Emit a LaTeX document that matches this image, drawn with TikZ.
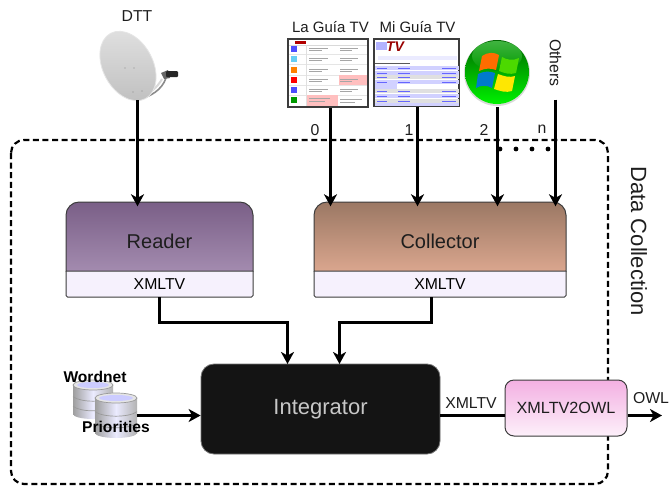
\documentclass[tikz,border=0pt]{standalone}
\usepackage{fontspec}
\setmainfont{Liberation Sans}
\usetikzlibrary{arrows.meta,shapes.geometric,positioning,calc}
\definecolor{ink}{HTML}{1E1E1E}
\definecolor{framec}{HTML}{3C3C3C}
\definecolor{paleport}{HTML}{F6F1FD}
\tikzset{
  x=1pt,y=-1pt,
  conn/.style={line width=2.95pt,draw=black,-{Stealth[length=12pt,width=13pt,inset=3.5pt]}},
  plainline/.style={line width=2.95pt,draw=black},
  boxedge/.style={draw=framec,line width=1pt},
  lbl/.style={inner sep=0pt,font=\fontsize{15.8}{16}\selectfont,text=ink},
  screentitle/.style={inner sep=0pt,font=\fontsize{15}{16}\selectfont,text=ink},
  title/.style={inner sep=0pt,font=\fontsize{20}{20}\selectfont,text=ink},
  port/.style={inner sep=0pt,minimum height=26pt,font=\fontsize{15.8}{16}\selectfont,text=black},
  dbl/.style={inner sep=0pt,font=\fontsize{15.6}{16}\selectfont\bfseries,text=black},
  anchorbox/.style={inner sep=0pt,minimum width=#1},
  screen/.style={draw=framec,line width=1.5pt,inner sep=0pt},
  tiny/.style={line width=0.8pt,draw=black!35},
  cylshade/.style={left color=black!38,right color=black!30,middle color=white!92!blue},
}
\newcommand{\headshape}[2]{(#1,271) -- (#1,215) .. controls +(0,-7) and +(-7,0) .. ++(13,-13) -- (#2-13,202) .. controls +(7,0) and +(0,-7) .. ++(13,13) -- (#2,271) -- cycle}
\newcommand{\dbcyl}[4]{% x left, x right, y top, y bottom
  \pgfmathsetmacro{\cx}{(#1+#2)/2}\pgfmathsetmacro{\rx}{(#2-#1)/2}
  \shade[cylshade] (\cx,#4) ellipse [x radius=\rx,y radius=5];
  \shade[cylshade] (#1,#3) rectangle (#2,#4);
  \fill[black!10] (\cx,#3) ellipse [x radius=\rx,y radius=5];
  \draw[black!40,line width=0.7pt] (\cx,#3) ellipse [x radius=\rx,y radius=5];
  \fill[white!80!blue] (\cx,#3) ellipse [x radius=\rx-4,y radius=3];
  \pgfmathsetmacro{\ya}{#3+(#4-#3)/3+2}\pgfmathsetmacro{\yc}{#3+2*(#4-#3)/3+2}
  \draw[black!40,line width=0.7pt] (#1,\ya) .. controls (#1+8,\ya+6) and (#2-8,\ya+6) .. (#2,\ya);
  \draw[black!40,line width=0.7pt] (#1,\yc) .. controls (#1+8,\yc+6) and (#2-8,\yc+6) .. (#2,\yc);
}
\begin{document}
\begin{tikzpicture}
\useasboundingbox (0,0) rectangle (669,485);
\fill[white] (0,0) rectangle (669,485);

% dashed frame
\draw[line width=2.2pt,black,dash pattern=on 6pt off 3.6pt,rounded corners=13pt] (11,140) rectangle (608,484);
\node[inner sep=0pt,rotate=-90,font=\fontsize{22}{22}\selectfont,text=ink] (dc) at (639,241) {Data Collection};

% dish
\draw[black!45,line width=1.6pt] (139,99) .. controls (150,97) and (162,90) .. (166,78);
\draw[black!15,line width=2pt] (142,96) .. controls (150,93) and (157,88) .. (162,79);
\fill[black!60] (161,73) -- (168,70) -- (170,78) -- (164,79) -- cycle;
\fill[black!85,rounded corners=1pt] (166,71) rectangle (178,77);
\shade[rotate around={28:(128,66)},top color=black!13,bottom color=black!24,draw=black!10,line width=0.8pt] (128,66) ellipse [x radius=25,y radius=37];
\foreach \a/\b in {125/68,134/68,133/92,142/91} \fill[black!45] (\a,\b) circle (0.7pt);
\node[anchorbox=20pt,minimum height=2pt] (dish) at (137.5,99) {};
\node[lbl] (dtt) at (137,16) {DTT};

% screens
\node[screentitle] (lguia) at (330.5,27) {La Guía TV};
\node[screentitle] (mguia) at (417.5,27) {Mi Guía TV};
\node[screen,fill=white,minimum width=80pt,minimum height=68pt] (scra) at (328,73) {};
\node[screen,fill=white,minimum width=85pt,minimum height=67pt] (scrb) at (416.5,72.5) {};
% La Guia details
\fill[red!70!black] (295,40.5) rectangle (306,44);
\fill[black!15] (289,44.5) rectangle (367,45.2);
\foreach \y/\c in {46/blue!70,56/cyan!60,67/orange,77/red,87/blue!70,97/green!60!black}
  \fill[\c] (291,\y) rectangle (297,\y+6);
\foreach \y in {54,64,75,85,95} \draw[black!10,line width=0.5pt] (289,\y) -- (367,\y);
\draw[black!12,line width=0.5pt] (306,45) -- (306,106);
\fill[red!25] (339,75) rectangle (367,85);
\fill[red!25] (307,95) rectangle (338,106);
\foreach \y in {48,58,69,79,89} {\draw[tiny] (309,\y) -- (328,\y); \draw[tiny] (309,\y+2.5) -- (322,\y+2.5); \draw[tiny] (340,\y) -- (358,\y); \draw[tiny] (340,\y+2.5) -- (352,\y+2.5);}
\draw[tiny] (309,98) -- (330,98); \draw[tiny] (309,101) -- (325,101); \draw[tiny] (340,99) -- (362,99);\draw[tiny] (340,102) -- (355,102);
% Mi Guia details
\fill[blue!30] (376,42) rectangle (387,50);
\node[inner sep=0pt,font=\fontsize{14}{14}\selectfont\bfseries\itshape,text=red!60!black] (tvlogo) at (395,47) {TV};
\fill[blue!8] (378,56) rectangle (457,60);
\draw[black!65,line width=0.8pt] (375,63) -- (410,63);
\foreach \y in {68,72.5,82,96} \fill[blue!18] (375,\y-2) rectangle (459,\y+2);
\foreach \y in {77,91,100.5} \fill[black!12] (375,\y-2) rectangle (459,\y+2);
\fill[blue!18] (375,84) rectangle (397,89);
\fill[blue!18] (375,103) rectangle (459,106);
\foreach \y in {68,73,77,82,91,96,101} {\draw[blue!60,line width=0.6pt] (377,\y) -- (387,\y); \draw[blue!60,line width=0.6pt] (398,\y) -- (410,\y); \draw[blue!60,line width=0.6pt] (442,\y) -- (456,\y);}

% windows orb
\fill[black!15] (497,73) circle (33pt);
\shade[top color=green!40!black,bottom color=green!95!black] (497,72) circle (32pt);
\shade[top color=white!50!green,bottom color=green!55!black,opacity=0.5] (497,56) ellipse [x radius=25,y radius=15];
\fill[orange!85!red] (482,56) .. controls (488,52) and (494,52) .. (499,55) -- (496,70) .. controls (491,68) and (485,68) .. (479,71) -- cycle;
\fill[green!65!yellow!85!black] (502,57) .. controls (507,60) and (513,61) .. (519,58) -- (516,73) .. controls (510,75) and (504,73) .. (499,71) -- cycle;
\fill[blue!40!cyan!80!black] (478,74) .. controls (484,71) and (490,71) .. (495,73) -- (492,88) .. controls (487,85) and (481,85) .. (476,88) -- cycle;
\fill[yellow!90!orange] (498,74) .. controls (503,76) and (510,78) .. (515,76) -- (512,91) .. controls (506,93) and (500,91) .. (494,89) -- cycle;
\node[anchorbox=10pt,minimum height=1pt] (orb) at (497.5,106.5) {};

% others
\node[lbl,rotate=-90] (others) at (555.5,63) {Others};
\node[anchorbox=2pt,minimum height=1pt] (oth) at (555.5,99) {};

% reader
\shade[top color={rgb,255:red,122;green,95;blue,135},bottom color={rgb,255:red,163;green,139;blue,175}] \headshape{66}{253};
\fill[paleport] (66,271) rectangle (253,297);
\draw[boxedge] \headshape{66}{253};
\draw[boxedge,rounded corners=1.5pt] (66,271) -- (66,297) -- (253,297) -- (253,271);
\node[title,minimum width=187pt,minimum height=69pt] (reader) at (159.5,241) {Reader};
\node[port,minimum width=187pt] (readerport) at (159.5,284) {XMLTV};

% collector
\shade[top color={rgb,255:red,155;green,120;blue,100},bottom color={rgb,255:red,218;green,166;blue,142}] \headshape{314}{566};
\fill[paleport] (314,271) rectangle (566,297);
\draw[boxedge] \headshape{314}{566};
\draw[boxedge,rounded corners=1.5pt] (314,271) -- (314,297) -- (566,297) -- (566,271);
\node[title,minimum width=252pt,minimum height=69pt] (collector) at (440,241) {Collector};
\node[port,minimum width=252pt] (collectorport) at (440,284) {XMLTV};

% integrator
\node[fill={rgb,255:red,20;green,20;blue,20},draw=black!55,line width=0.8pt,rounded corners=13pt,minimum width=239pt,minimum height=90pt,inner sep=0pt,font=\fontsize{22}{22}\selectfont,text=black!22] (integrator) at (320.5,409) {Integrator};

% XMLTV2OWL
\node[top color={rgb,255:red,243;green,176;blue,226},bottom color={rgb,255:red,253;green,240;blue,250},draw=framec,line width=1pt,rounded corners=9pt,minimum width=122pt,minimum height=56pt,inner sep=0pt,font=\fontsize{16.2}{16}\selectfont,text=ink] (x2o) at (566,408) {XMLTV2OWL};
\coordinate (owlend) at (662,415.5);
\node[lbl] (xmlout) at (471,403) {XMLTV};
\node[lbl] (owl) at (651,398) {OWL};

% databases
\dbcyl{73}{113}{385}{414}
\dbcyl{95}{137}{398}{433}
\node[dbl] (wordnet) at (95,377) {Wordnet};
\node[dbl] (priorities) at (116,427) {Priorities};
\coordinate (dbout) at (137,415.5);

% channel labels
\node[lbl] (n0) at (315,130) {0};
\node[lbl] (n1) at (409,130) {1};
\node[lbl] (n2) at (484,130) {2};
\node[lbl] (nn) at (542,129) {n};
\foreach \x in {500,516,532,548} \fill[black] (\x,149) circle (2.4pt);

% connectors
\coordinate (relbow) at (159.5,322.5);
\coordinate (celbow) at (431.5,322.5);
\coordinate (rin) at (287.5,364);
\coordinate (cin) at (339.5,364);
\draw[conn] (dish.south) -- (reader.north -| dish.south);
\draw[conn] (scra.south -| lguia.south) -- (collector.north -| lguia.south);
\draw[conn] (scrb.south -| mguia.south) -- (collector.north -| mguia.south);
\draw[conn] (orb.south) -- (collector.north -| orb.south);
\draw[conn] (oth.south) -- (collector.north -| oth.south);
\draw[conn] (readerport.south) -- (relbow) -| (rin);
\draw[conn] (collectorport.south -| celbow) -- (celbow) -| (cin);
\draw[conn] (dbout) -- (integrator.west |- dbout);
\draw[plainline] (integrator.east |- dbout) -- (x2o.west |- dbout);
\draw[conn] (x2o.east |- owlend) -- (owlend);
\end{tikzpicture}
\end{document}
